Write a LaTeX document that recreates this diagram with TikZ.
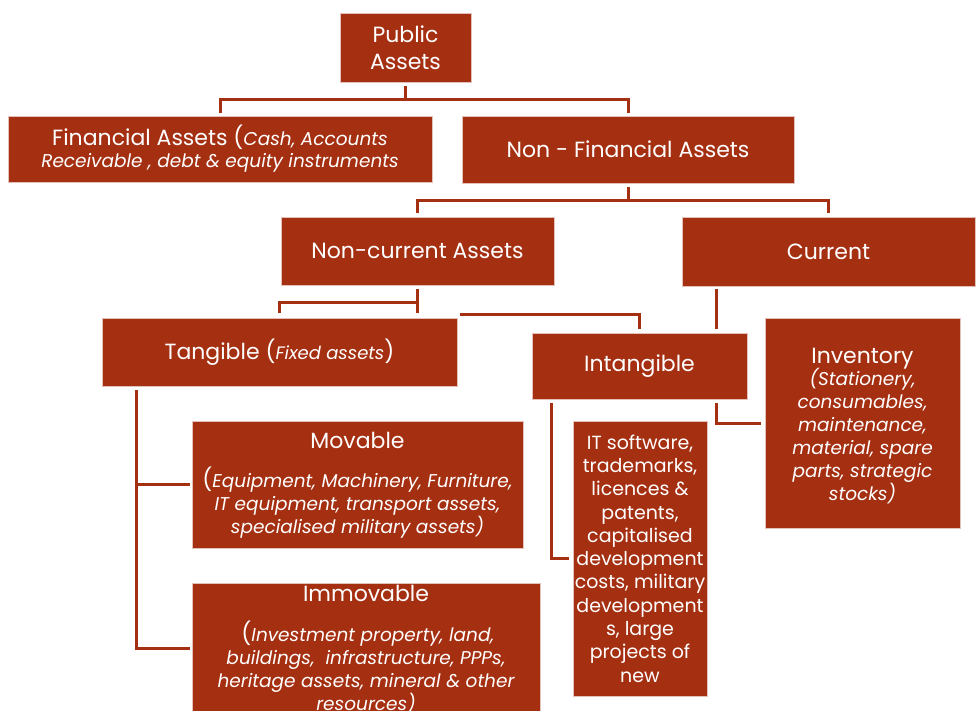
\documentclass[tikz,border=0pt]{standalone}
\usepackage{fontspec}
\setmainfont{Poppins}
\usetikzlibrary{calc}
\definecolor{rust}{RGB}{165,47,17}
\newcommand\ttl{\fontsize{22}{27}\selectfont}
\newcommand\itl{\fontsize{18.5}{23}\selectfont\itshape}
\begin{document}
\begin{tikzpicture}[x=1pt,y=-1pt,
  box/.style={fill=rust, draw=white!70!rust, line width=0.8pt, text=white, align=center, inner sep=0pt},
  conn/.style={draw=rust, line width=3pt},
  lbl/.style={text=white, align=center, inner sep=0pt}]
\useasboundingbox (0,0) rectangle (976,711);
% boxes
\node[box, font=\ttl, minimum width=131pt, minimum height=69pt] (pub) at (405.5,47.5) {Public\\Assets};
\node[box, font=\fontsize{18.5}{22}\selectfont\itshape, minimum width=424pt, minimum height=66pt] (fin) at (220,149)
  {{\ttl\upshape Financial Assets (}Cash, Accounts\\Receivable , debt \& equity instruments};
\node[box, font=\ttl, minimum width=332pt, minimum height=67pt] (nonfin) at (628,149.5) {Non - Financial Assets};
\node[box, font=\ttl, minimum width=273pt, minimum height=68pt] (noncur) at (417.5,251) {Non-current Assets};
\node[box, font=\ttl, minimum width=293pt, minimum height=69pt] (cur) at (828.5,251.5) {Current};
\node[box, font=\ttl, minimum width=355pt, minimum height=68pt] (tang) at (279.5,352) {Tangible ({\fontsize{18}{20}\selectfont\itshape Fixed assets})};
\node[box, font=\ttl, minimum width=215pt, minimum height=66pt] (intang) at (639.5,366) {Intangible};
\node[box, minimum width=195pt, minimum height=210pt] (inv) at (862.5,423) {};
\node[lbl, font=\itl] (invtext) at ([yshift=-3pt]inv.center) {{\ttl\upshape Inventory}\\[-1pt](Stationery,\\consumables,\\maintenance,\\material, spare\\parts, strategic\\stocks)};
\node[box, font=\fontsize{19}{23.3}\selectfont, minimum width=134pt, minimum height=275pt] (it) at (640,558.5)
  {IT software,\\trademarks,\\licences \&\\patents,\\capitalised\\development\\costs, military\\development\\s, large\\projects of\\new};
\node[box, minimum width=331pt, minimum height=127pt] (mov) at (357.5,484.5) {};
\node[lbl, font=\itl] (movtext) at ([yshift=-1pt]mov.center) {{\ttl\upshape Movable}\\[16pt]{\ttl\upshape (}Equipment, Machinery, Furniture,\\IT equipment, transport assets,\\specialised military assets)};
\node[box, minimum width=348pt, minimum height=130pt] (immov) at (366,648) {};
\node[lbl, font=\itl, anchor=north] (immovtext) at ([yshift=-2pt]immov.north) {{\ttl\upshape Immovable}\\[17pt]{\ttl\upshape \,(}Investment property, land,\\buildings,\ \ infrastructure, PPPs,\\heritage assets, mineral \& other\\resources)};
% connectors
\draw[conn] ([yshift=-4pt]pub.south) -- ++(0,13) coordinate (j1);
\draw[conn, shorten >=3pt] (j1) -| (fin.north);
\draw[conn, shorten >=3pt] (j1) -| (nonfin.north);
\draw[conn] ([yshift=-4pt]nonfin.south) -- ++(0,13) coordinate (j2);
\draw[conn, shorten >=4pt] (j2) -| (noncur.north);
\draw[conn, shorten >=4pt] (j2) -| (cur.north);
\draw[conn] ([yshift=-4pt]noncur.south) -- ++(0,24);
\coordinate (j3) at ($(noncur.south)+(0,17.5)$);
\draw[conn, shorten >=5pt] (j3) -| (tang.north);
\draw[conn, shorten >=4pt] ([xshift=3pt,yshift=3pt]tang.north east) -| (intang.north);
\coordinate (c1) at ([xshift=35pt,yshift=-3pt]cur.south west);
\draw[conn, shorten >=4pt] (c1) -- (c1 |- intang.north);
\draw[conn, shorten <=4pt, shorten >=4pt] (c1 |- intang.south) |- (inv.west);
\draw[conn, shorten <=4pt, shorten >=4pt] ([xshift=20pt]intang.south west) |- (it.west);
\draw[conn, shorten <=4pt, shorten >=2pt] ([xshift=35pt]tang.south west) |- (mov.west);
\draw[conn, shorten <=4pt, shorten >=2pt] ([xshift=35pt]tang.south west) |- (immov.west);
\end{tikzpicture}
\end{document}
